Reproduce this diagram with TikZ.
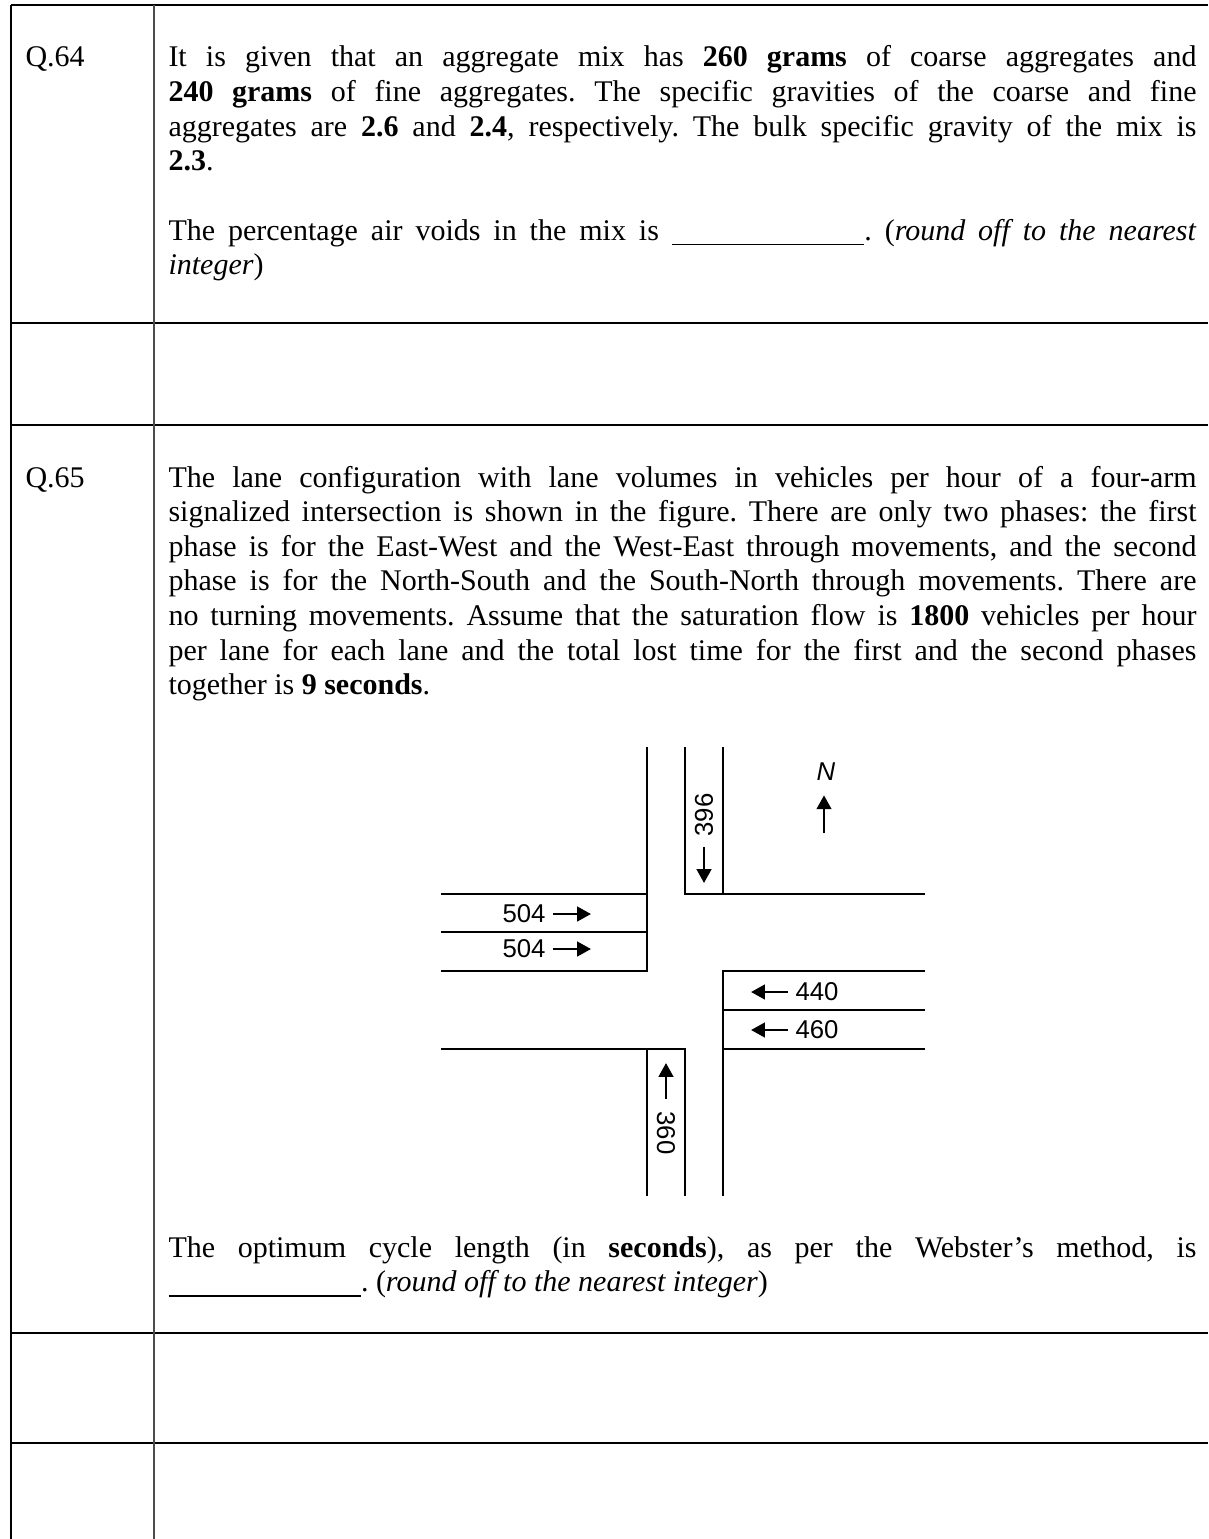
\documentclass[tikz,border=0pt]{standalone}
\usepackage{fontspec}
\setmainfont{Liberation Serif}
\setsansfont{Liberation Sans}
\usetikzlibrary{arrows.meta}
\newcommand{\answerblank}{\rule[-2pt]{77pt}{0.5pt}}
\frenchspacing
\hyphenpenalty=10000
\exhyphenpenalty=10000

\begin{document}
\begin{tikzpicture}[x=0.4pt,y=-0.4pt,
rowline/.style={line width=0.7pt},
colline/.style={line width=0.55pt, draw=black!70},
qlabel/.style={anchor=base west, inner sep=0pt, font=\fontsize{12}{13.85}\selectfont},
qtext/.style={anchor=base west, inner sep=0pt, text width=411.2pt, align=justify,
    font=\fontsize{12}{13.85}\selectfont},
road/.style={line width=0.8pt},
volume/.style={inner sep=0pt, font=\sffamily\fontsize{10.3}{12}\selectfont},
flow/.style={line width=0.95pt, -{Triangle[length=5.5pt,width=5.8pt]}}]
\useasboundingbox (0,0) rectangle (1208,1539);
% table rules
\foreach \y in {5,323,425,1333,1443}
  \draw[rowline] (11,\y) -- (1208,\y);
\draw[line width=0.5pt] (11,5) -- (11,1539);
\draw[colline] (154,5) -- (154,1539);
% Q.64
\node[qlabel] (q64-label) at (25,67) {Q.64};
\node[qtext] (q64-text) at (168,67) {It is given that an aggregate mix has \textbf{260 grams} of coarse aggregates and\linebreak
\textbf{240 grams} of fine aggregates. The specific gravities of the coarse and fine\linebreak
aggregates are \textbf{2.6} and \textbf{2.4}, respectively. The bulk specific gravity of the mix is\linebreak
\textbf{2.3}.\par\vspace{\baselineskip}
The percentage air voids in the mix is \answerblank. (\textit{round off to the nearest}\linebreak
\textit{integer})};
% Q.65
\node[qlabel] (q65-label) at (25,487) {Q.65};
\node[qtext] (q65-text) at (168,487) {The lane configuration with lane volumes in vehicles per hour of a four-arm\linebreak
signalized intersection is shown in the figure. There are only two phases: the first\linebreak
phase is for the East-West and the West-East through movements, and the second\linebreak
phase is for the North-South and the South-North through movements. There are\linebreak
no turning movements. Assume that the saturation flow is \textbf{1800} vehicles per hour\linebreak
per lane for each lane and the total lost time for the first and the second phases\linebreak
together is \textbf{9 seconds}.};
% intersection
\draw[road] (441,894) -- (647,894);
\draw[road] (441,932) -- (647,932);
\draw[road] (647,747) -- (647,971) -- (441,971);
\draw[road] (685,747) -- (685,894) -- (925,894);
\draw[road] (723,747) -- (723,894);
\draw[road] (925,971) -- (723,971) -- (723,1196);
\draw[road] (723,1010) -- (925,1010);
\draw[road] (723,1049) -- (925,1049);
\draw[road] (441,1049) -- (685,1049) -- (685,1196);
\draw[road] (647,1049) -- (647,1196);
% lane volumes
\node[volume] (eb-1) at (524,914) {504};
\node[volume] (eb-2) at (524,949) {504};
\node[volume] (wb-1) at (817,992) {440};
\node[volume] (wb-2) at (817,1030) {460};
\node[volume, rotate=90] (sb-1) at (704,815) {396};
\node[volume, rotate=-90] (nb-1) at (666,1133) {360};
\draw[flow] (eb-1.east) ++(7,0) -- ++(38,0);
\draw[flow] (eb-2.east) ++(7,0) -- ++(38,0);
\draw[flow] (wb-1.west) ++(-7,0) -- ++(-37,0);
\draw[flow] (wb-2.west) ++(-7,0) -- ++(-37,0);
\draw[flow] (sb-1.west) ++(0,10) -- ++(0,36);
\draw[flow] (nb-1.west) ++(0,-12) -- ++(0,-36);
% north sign
\node[volume, font=\sffamily\itshape\fontsize{10.3}{12}\selectfont] (north) at (826,772) {N};
\draw[flow] (north.south) ++(-2,52) -- ++(0,-38);
% closing text
\node[qtext] (q65-ask) at (168,1257) {The optimum cycle length (in \textbf{seconds}), as per the Webster’s method, is\linebreak
\answerblank. (\textit{round off to the nearest integer})};
\end{tikzpicture}
\end{document}
